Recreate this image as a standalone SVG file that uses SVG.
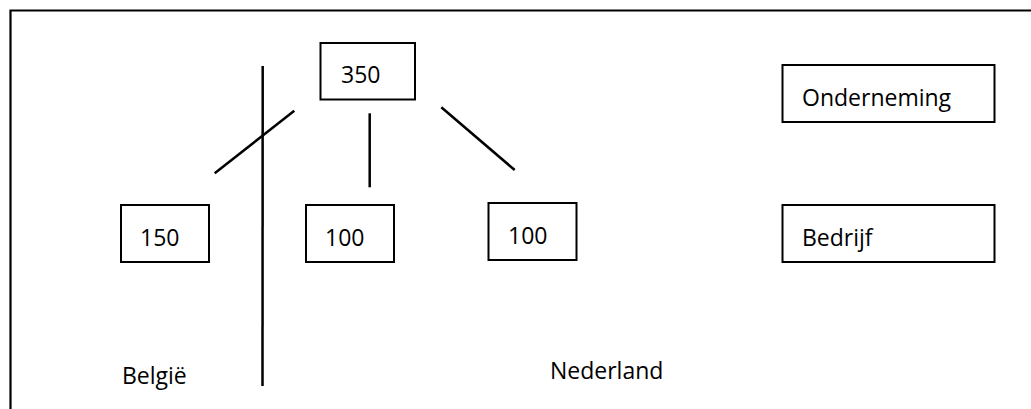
<svg xmlns="http://www.w3.org/2000/svg" width="1031" height="409" viewBox="0 0 1031 409">
<style>
.box{fill:#fff;stroke:#000;stroke-width:2}
.ln{stroke:#000;stroke-width:2.5;fill:none}
text{font-family:"Open Sans","Liberation Sans",sans-serif;font-size:23px;fill:#000}
</style>
<rect width="1031" height="409" fill="#fff"/>
<path d="M10.5 420 V10.5 H1040" fill="none" stroke="#000" stroke-width="2.2"/>
<g id="connectors">
<line class="ln" x1="262.7" y1="66" x2="262.5" y2="386"/>
<line class="ln" x1="294.3" y1="110.7" x2="214.7" y2="173.3"/>
<line class="ln" x1="369.7" y1="113.3" x2="369.7" y2="187.3"/>
<line class="ln" x1="441.3" y1="107.3" x2="514.7" y2="170"/>
</g>
<g id="n350"><rect class="box" x="320.5" y="43" width="94.5" height="56.5"/><text x="341" y="83">350</text></g>
<g id="n150"><rect class="box" x="121" y="205" width="88" height="57"/><text x="140" y="246">150</text></g>
<g id="n100a"><rect class="box" x="306" y="205" width="88" height="57"/><text x="325" y="246">100</text></g>
<g id="n100b"><rect class="box" x="488.5" y="203" width="88" height="57"/><text x="508" y="244">100</text></g>
<g id="onderneming"><rect class="box" x="782.5" y="65" width="212" height="57"/><text x="802" y="106">Onderneming</text></g>
<g id="bedrijf"><rect class="box" x="782.5" y="205" width="212" height="57"/><text x="802" y="246">Bedrijf</text></g>
<g id="belgie"><text x="122" y="384">België</text></g>
<g id="nederland"><text x="550" y="379">Nederland</text></g>
</svg>
